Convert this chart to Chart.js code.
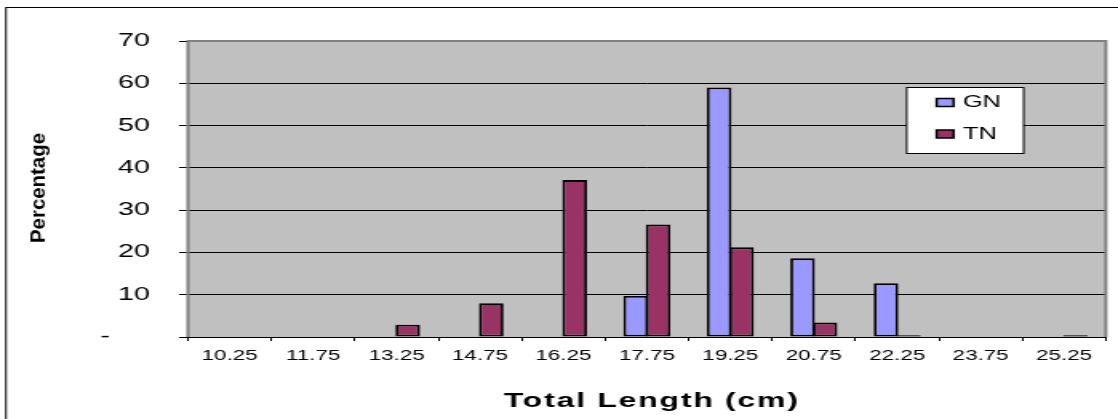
<!DOCTYPE html>
<html>
<head>
<meta charset="utf-8">
<script src="https://cdn.jsdelivr.net/npm/chart.js@4/dist/chart.umd.min.js"></script>
<style>
  html, body { margin: 0; padding: 0; background: #ffffff; overflow: hidden; }
  #wrap { position: absolute; left: 0; top: 0; width: 699px; height: 419px; transform-origin: 0 0; transform: scaleX(1.5994); }
</style>
</head>
<body>
<div id="wrap"><canvas id="c" width="699" height="419"></canvas></div>
<script>
// ---- data ----
const categories = ['10.25', '11.75', '13.25', '14.75', '16.25', '17.75', '19.25', '20.75', '22.25', '23.75', '25.25'];
const gnValues = [null, null, null, null, null, 9.7, 59.0, 18.6, 12.7, null, null];
const tnValues = [null, null, 2.9, 8.0, 37.1, 26.6, 21.2, 3.4, 0.4, null, 0.4];
const seriesNames = ['GN', 'TN'];
const yTicks = [0, 10, 20, 30, 40, 50, 60, 70];
const xTitle = 'Total Length (cm)';
const yTitle = 'Percentage';

Chart.defaults.font.family = "'Liberation Sans', Arial, sans-serif";
Chart.defaults.color = '#000000';

const decor = {
  id: 'decor',
  beforeDraw(chart) {
    const ctx = chart.ctx, a = chart.chartArea;
    ctx.save();
    ctx.fillStyle = '#ffffff';
    ctx.fillRect(0, 0, chart.width, chart.height);
    ctx.strokeStyle = '#000000';
    ctx.lineWidth = 1;
    ctx.strokeRect(3.75, 7.5, chart.width + 20, chart.height + 20);
    ctx.fillStyle = '#c0c0c0';
    ctx.fillRect(a.left, a.top, a.right - a.left, a.bottom - a.top);
    ctx.restore();
  },
  beforeDatasetsDraw(chart) {
    const ctx = chart.ctx, a = chart.chartArea;
    ctx.save();
    ctx.strokeStyle = '#808080';
    ctx.lineWidth = 2;
    ctx.beginPath();
    ctx.moveTo(a.left, a.bottom);
    ctx.lineTo(a.left, a.top);
    ctx.lineTo(a.right, a.top);
    ctx.lineTo(a.right, a.bottom);
    ctx.stroke();
    ctx.restore();
  },
  afterDraw(chart) {
    const ctx = chart.ctx;
    // x-axis title
    ctx.save();
    ctx.font = "bold 20px 'Liberation Sans', Arial, sans-serif";
    ctx.letterSpacing = '1.1px';
    ctx.fillStyle = '#000000';
    ctx.textAlign = 'center';
    ctx.textBaseline = 'middle';
    ctx.fillText(xTitle, 407.5, 401);
    ctx.restore();

    // y-axis title
    ctx.save();
    ctx.translate(24.7, 188);
    ctx.rotate(-Math.PI / 2);
    ctx.font = "bold 12px 'Liberation Sans', Arial, sans-serif";
    const w = ctx.measureText(yTitle).width;
    ctx.scale(110 / w, 1);
    ctx.fillStyle = '#000000';
    ctx.textAlign = 'center';
    ctx.textBaseline = 'middle';
    ctx.fillText(yTitle, 0, 0);
    ctx.restore();

    // legend box
    ctx.save();
    ctx.fillStyle = '#ffffff';
    ctx.fillRect(566.9, 87.5, 73.1, 66);
    ctx.strokeStyle = '#000000';
    ctx.lineWidth = 1;
    ctx.strokeRect(566.9, 87.5, 73.1, 66);
    const rows = [102.5, 134];
    chart.data.datasets.forEach((ds, i) => {
      const cy = rows[i];
      ctx.fillStyle = ds.backgroundColor;
      ctx.fillRect(585.6, cy - 4, 10.6, 8);
      ctx.strokeStyle = '#000000';
      ctx.lineWidth = 1.5;
      ctx.strokeRect(585.6, cy - 4, 10.6, 8);
      ctx.fillStyle = '#000000';
      ctx.font = "16px 'Liberation Sans', Arial, sans-serif";
      ctx.textAlign = 'left';
      ctx.textBaseline = 'middle';
      ctx.fillText(ds.label, 601.9, cy + 0.5);
    });
    ctx.restore();
  }
};

new Chart(document.getElementById('c'), {
  type: 'bar',
  data: {
    labels: categories,
    datasets: [
      { label: seriesNames[0], data: gnValues, backgroundColor: '#9999ff', borderColor: '#000000', borderWidth: 1.8, borderSkipped: false },
      { label: seriesNames[1], data: tnValues, backgroundColor: '#993366', borderColor: '#000000', borderWidth: 1.8, borderSkipped: false }
    ]
  },
  options: {
    responsive: false,
    animation: false,
    devicePixelRatio: 1,
    layout: { padding: { top: 41, right: 7.6, bottom: 0, left: 0 } },
    plugins: { legend: { display: false }, tooltip: { enabled: false } },
    datasets: { bar: { categoryPercentage: 0.537, barPercentage: 1.1 } },
    scales: {
      x: {
        offset: true,
        grid: { display: true, drawOnChartArea: false, drawTicks: true, tickLength: 4, color: '#000000', offset: true },
        border: { display: true, color: '#000000', width: 1 },
        ticks: { font: { size: 14 }, color: '#000000', padding: 7, maxRotation: 0, autoSkip: false },
        title: { display: false, text: xTitle },
        afterFit(scale) { scale.height = 82; }
      },
      y: {
        min: 0, max: 70,
        afterBuildTicks(scale) { scale.ticks = yTicks.map(v => ({ value: v })); },
        grid: { color: '#000000', lineWidth: 1, tickLength: 5.6, drawTicks: true },
        border: { display: true, color: '#000000', width: 1 },
        ticks: {
          font: { size: 18 }, color: '#000000', padding: 18.1,
          callback: (v) => v === 0 ? '-     ' : String(v)
        },
        afterFit(scale) { scale.width = 117.5; }
      }
    }
  },
  plugins: [decor]
});
</script>
</body>
</html>
